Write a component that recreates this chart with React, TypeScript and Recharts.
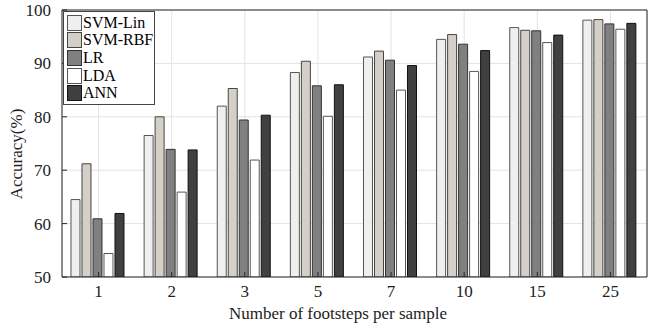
import { Bar, BarChart, CartesianGrid, XAxis, YAxis } from "recharts"

const footsteps = ["1", "2", "3", "5", "7", "10", "15", "25"]
const svmLin = [64.5, 76.5, 82.0, 88.3, 91.2, 94.5, 96.7, 98.1]
const svmRbf = [71.2, 80.0, 85.3, 90.4, 92.3, 95.4, 96.2, 98.2]
const lr = [60.9, 73.9, 79.4, 85.8, 90.6, 93.6, 96.1, 97.4]
const lda = [54.4, 65.9, 71.9, 80.1, 85.0, 88.5, 93.9, 96.4]
const ann = [61.9, 73.8, 80.3, 86.0, 89.6, 92.4, 95.3, 97.5]
const yTicks = [50, 60, 70, 80, 90, 100]

const series = [
  { key: "SVM-Lin", values: svmLin, fill: "#efefef", stroke: "#555" },
  { key: "SVM-RBF", values: svmRbf, fill: "#d4d0c8", stroke: "#444" },
  { key: "LR", values: lr, fill: "#808080", stroke: "#333" },
  { key: "LDA", values: lda, fill: "#ffffff", stroke: "#555" },
  { key: "ANN", values: ann, fill: "#404040", stroke: "#111" },
]

const data = footsteps.map((f, i) => {
  const row: Record<string, string | number> = { name: f }
  series.forEach((s) => {
    row[s.key] = s.values[i]
  })
  return row
})

const font = "'Liberation Serif', 'Times New Roman', serif"
const axisColor = "#262626"

function LegendBox() {
  return (
    <div
      style={{
        position: "absolute",
        left: 63,
        top: 11,
        border: "1px solid #444",
        background: "#fff",
        width: 87,
        padding: "2px 0 2px 3px",
        fontFamily: font,
        fontSize: 16,
        color: "#000",
        lineHeight: "18px",
      }}
    >
      {series.map((s) => (
        <div key={s.key} style={{ display: "flex", alignItems: "center", height: 17.6 }}>
          <span
            style={{
              display: "inline-block",
              width: 13,
              height: 14,
              background: s.fill,
              border: `1px solid ${s.stroke}`,
              marginRight: 1,
            }}
          />
          <span>{s.key}</span>
        </div>
      ))}
    </div>
  )
}

export default function App() {
  return (
    <div style={{ position: "absolute", left: 0, top: 0, width: 648, height: 324, background: "#fff" }}>
      <BarChart
        width={648}
        height={324}
        data={data}
        margin={{ top: 9, right: 0, bottom: 17, left: 0 }}
        barCategoryGap="12.3%"
        barGap={2}
      >
        <CartesianGrid stroke="#e3e3e3" strokeWidth={1} />
        <XAxis
          dataKey="name"
          height={30}
          tickSize={-5}
          tickMargin={13}
          stroke={axisColor}
          tick={{ fill: "#222", fontFamily: font, fontSize: 17 }}
          interval={0}
        />
        <XAxis
          xAxisId="top"
          dataKey="name"
          orientation="top"
          height={1}
          tickSize={-5}
          tick={false}
          stroke={axisColor}
        />
        <YAxis
          domain={[50, 100]}
          ticks={yTicks}
          width={62}
          tickSize={-5}
          tickMargin={16}
          stroke={axisColor}
          tick={{ fill: "#222", fontFamily: font, fontSize: 17 }}
          allowDataOverflow
        />
        <YAxis
          yAxisId="right"
          orientation="right"
          domain={[50, 100]}
          ticks={yTicks}
          width={1}
          tickSize={-5}
          tick={false}
          stroke={axisColor}
        />
        {series.map((s) => (
          <Bar
            key={s.key}
            dataKey={s.key}
            fill={s.fill}
            stroke={s.stroke}
            strokeWidth={1}
            isAnimationActive={false}
          />
        ))}
      </BarChart>
      <LegendBox />
      <div
        style={{
          position: "absolute",
          left: 229,
          top: 305,
          width: 200,
          textAlign: "center",
          fontFamily: font,
          fontSize: 17,
          color: "#222",
          whiteSpace: "nowrap",
          lineHeight: "18px",
        }}
      >
        Number of footsteps per sample
      </div>
      <div
        style={{
          position: "absolute",
          left: 17,
          top: 154,
          transform: "translate(-50%, -50%) rotate(-90deg)",
          fontFamily: font,
          fontSize: 17,
          color: "#222",
          whiteSpace: "nowrap",
          lineHeight: "18px",
        }}
      >
        Accuracy(%)
      </div>
    </div>
  )
}
